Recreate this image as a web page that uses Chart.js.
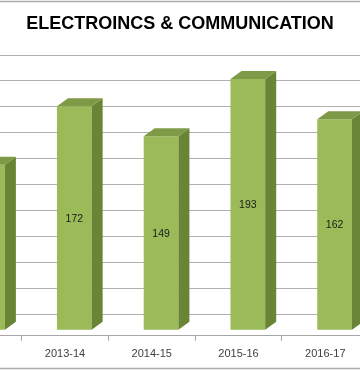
<!DOCTYPE html>
<html><head><meta charset="utf-8">
<script src="https://cdn.jsdelivr.net/npm/chart.js@4/dist/chart.umd.min.js"></script>
<style>html,body{margin:0;padding:0;background:#fff;overflow:hidden}#wrap{width:360px;height:370px;position:relative}canvas{display:block}</style>
</head><body><div id="wrap"><canvas id="c" width="360" height="370"></canvas></div>
<script>
const categories = ['2012-13', '2013-14', '2014-15', '2015-16', '2016-17'];
const students = [127, 172, 149, 193, 162];
const yTicks = [0, 20, 40, 60, 80, 100, 120, 140, 160, 180, 200];
const titleText = 'ELECTROINCS & COMMUNICATION';

const FRONT = '#9BBB59', TOP = '#7E9A47', SIDE = '#6A8436';
const DEPTH_X = 11, DEPTH_Y = -8;
const FONT = '"Liberation Sans", Arial, sans-serif';

const frame = {
  id: 'frame',
  beforeDraw(chart) {
    const c = chart.ctx;
    c.save();
    c.fillStyle = '#fff';
    c.fillRect(0, 0, chart.width, chart.height);
    c.strokeStyle = '#ABABAB';
    c.lineWidth = 1.5;
    c.beginPath();
    c.moveTo(0, 1.5); c.lineTo(chart.width, 1.5);
    c.moveTo(0, chart.height - 1.5); c.lineTo(chart.width, chart.height - 1.5);
    c.stroke();
    c.restore();
  }
};

const box3d = {
  id: 'box3d',
  afterDatasetsDraw(chart) {
    const ctx = chart.ctx;
    const meta = chart.getDatasetMeta(0);
    ctx.save();
    meta.data.forEach(bar => {
      const {x, y, base, width} = bar.getProps(['x', 'y', 'base', 'width'], true);
      const l = x - width / 2, r = x + width / 2;
      ctx.fillStyle = SIDE;
      ctx.beginPath();
      ctx.moveTo(r, y); ctx.lineTo(r + DEPTH_X, y + DEPTH_Y);
      ctx.lineTo(r + DEPTH_X, base + DEPTH_Y); ctx.lineTo(r, base);
      ctx.closePath(); ctx.fill();
      ctx.fillStyle = TOP;
      ctx.beginPath();
      ctx.moveTo(l, y); ctx.lineTo(l + DEPTH_X, y + DEPTH_Y);
      ctx.lineTo(r + DEPTH_X, y + DEPTH_Y); ctx.lineTo(r, y);
      ctx.closePath(); ctx.fill();
    });
    ctx.font = '10.5px ' + FONT;
    ctx.fillStyle = '#1a1a1a';
    ctx.textAlign = 'center';
    ctx.textBaseline = 'middle';
    meta.data.forEach((bar, i) => {
      const {x, y, base} = bar.getProps(['x', 'y', 'base'], true);
      ctx.fillText(String(students[i]), x, (y + base) / 2 + 1);
    });
    ctx.restore();
  }
};

const xMin = 0.2509, xMax = 4.3998, shift = 9.3 / 86.77;

new Chart(document.getElementById('c'), {
  type: 'bar',
  data: {
    datasets: [{
      data: categories.map((c, i) => ({x: i, y: students[i]})),
      xAxisID: 'xBar', yAxisID: 'yBar',
      backgroundColor: FRONT, borderWidth: 0,
      barPercentage: 0.5, categoryPercentage: 0.8
    }]
  },
  options: {
    responsive: false, animation: false, events: [],
    layout: {padding: {top: 0, left: 0, right: 0, bottom: 2}},
    plugins: {
      legend: {display: false}, tooltip: {enabled: false},
      title: {
        display: true, text: titleText, color: '#000',
        font: {family: FONT, size: 18, weight: 'bold', lineHeight: 1.2},
        padding: {top: 13, bottom: 20.4}
      }
    },
    scales: {
      x: {
        type: 'linear', position: 'bottom', min: xMin, max: xMax, offset: false,
        afterBuildTicks: s => {
          s.ticks = categories.map((c, i) => ({value: i})).filter(t => t.value >= s.min && t.value <= s.max);
        },
        ticks: {callback: v => categories[v], autoSkip: false, maxRotation: 0, minRotation: 0,
                color: '#404040', font: {family: FONT, size: 11}, padding: 7},
        grid: {offset: true, drawOnChartArea: false, drawTicks: true, tickLength: 5, tickColor: '#A6A6A6', tickWidth: 1},
        border: {display: true, color: '#A6A6A6', width: 1}
      },
      xBar: {type: 'linear', display: false, offset: false, min: xMin - shift, max: xMax - shift},
      y: {
        type: 'linear', position: 'left', min: -16.154, max: 200,
        afterBuildTicks: s => { s.ticks = yTicks.map(v => ({value: v})); },
        afterFit: s => { s.width = 0; },
        ticks: {display: false},
        grid: {color: '#AFAFAF', lineWidth: 1, drawTicks: false},
        border: {display: false}
      },
      yBar: {type: 'linear', display: false, min: -4.615, max: 211.54}
    }
  },
  plugins: [frame, box3d]
});
</script>
</body></html>
